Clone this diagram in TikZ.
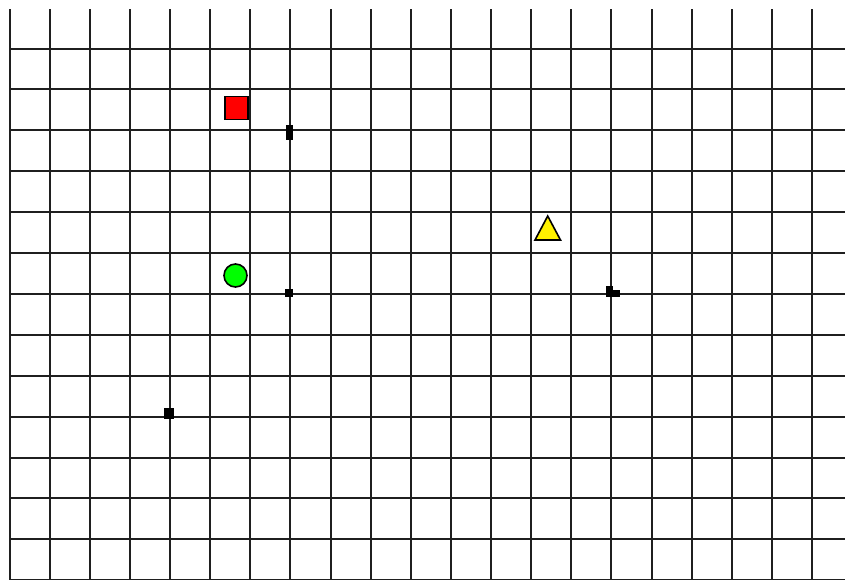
\documentclass[tikz,border=0pt]{standalone}
\usetikzlibrary{shapes.geometric}
\begin{document}
\begin{tikzpicture}[x=1pt,y=-1pt,
  gridline/.style={draw=black!88,line width=2pt},
  blackmark/.style={fill=black,draw=none},
  shapeborder/.style={draw=black,line width=1.6pt}]
\useasboundingbox[fill=white] (0,0) rectangle (845,579);
% vertical grid lines
\foreach \k in {0,...,20}{
  \draw[gridline] ({9.5+40.13*\k},9) -- ({9.5+40.13*\k},580);
}
% horizontal grid lines
\foreach \k in {0,...,13}{
  \draw[gridline] (9,{48.5+40.9*\k}) -- (846,{48.5+40.9*\k});
}
% red square
\node[shapeborder,fill=red,minimum size=23pt,inner sep=0pt,anchor=center] (sq) at (236.5,108) {};
% green circle
\node[shapeborder,fill=green,circle,minimum size=23pt,inner sep=0pt] (ci) at (235.5,275.5) {};
% yellow triangle
\draw[shapeborder,fill=yellow,line join=miter] (547.7,216) -- (560.5,240) -- (535,240) -- cycle;
% small black marks
\fill[blackmark] (286,125) rectangle (293,140);
\fill[blackmark] (285,289) rectangle (293,297);
\fill[blackmark] (606,286) rectangle (613,297);
\fill[blackmark] (613,290) rectangle (620,297);
\fill[blackmark] (164,408) rectangle (174,419);
\end{tikzpicture}
\end{document}
